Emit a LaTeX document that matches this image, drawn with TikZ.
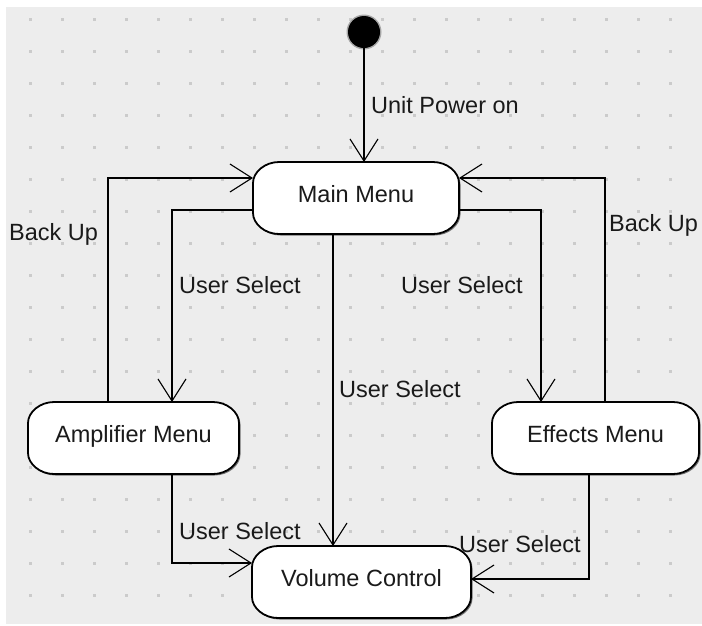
\documentclass[tikz,border=0pt]{standalone}
\usepackage{fontspec}
\setmainfont{Liberation Sans}
\usetikzlibrary{arrows.meta}
\definecolor{canvas}{HTML}{EDEDED}
\definecolor{griddot}{HTML}{CBCBCB}
\definecolor{ink}{HTML}{1A1A1A}
\pgfdeclarelayer{back}
\pgfdeclarelayer{shapes}
\pgfsetlayers{back,shapes,main}
% outline of a state: rectangle with softly curved chamfered corners
\newcommand\statepath[2]{%
  \path[#2]
    ([xshift=26pt]#1.north west) -- ([xshift=-26pt]#1.north east)
    .. controls ([xshift=-12pt]#1.north east) and ([yshift=-10pt]#1.north east)
    .. ([yshift=-21pt]#1.north east)
    -- ([yshift=21pt]#1.south east)
    .. controls ([yshift=10pt]#1.south east) and ([xshift=-12pt]#1.south east)
    .. ([xshift=-26pt]#1.south east)
    -- ([xshift=26pt]#1.south west)
    .. controls ([xshift=12pt]#1.south west) and ([yshift=10pt]#1.south west)
    .. ([yshift=21pt]#1.south west)
    -- ([yshift=-21pt]#1.north west)
    .. controls ([yshift=-10pt]#1.north west) and ([xshift=12pt]#1.north west)
    .. ([xshift=26pt]#1.north west) -- cycle;}
\newcommand\drawstate[1]{%
  \statepath{#1}{fill=black!55, transform canvas={xshift=1.5pt, yshift=-1.5pt}}%
  \statepath{#1}{fill=white, draw=black, line width=1.8pt}}
\begin{document}
\begin{tikzpicture}[x=1pt,y=-1pt,
  state/.style={inner sep=0pt, outer sep=0pt, minimum height=72pt,
    text height=17pt, text depth=9pt, text=ink,
    font=\fontsize{23.5}{28}\selectfont},
  trans/.style={line width=1.8pt, draw=black,
    -{Straight Barb[length=22pt, width=28pt, line width=1.1pt]}},
  lbl/.style={anchor=base west, inner sep=0pt, text=ink,
    font=\fontsize{23.5}{28}\selectfont},
]
\useasboundingbox (0,0) rectangle (702,625);
\begin{pgfonlayer}{back}
  \fill[white] (0,0) rectangle (702,625);
  % drawing canvas with dotted grid
  \fill[canvas] (6,7) rectangle (702,624);
  \foreach \i in {0,...,20}
    \foreach \j in {0,...,18}
      \fill[griddot] (30+32*\i-1.5, 19+32*\j-1.5) rectangle ++(3,3);
\end{pgfonlayer}

% initial pseudo-state
\fill[black!35] (364,32) circle[radius=17.5pt];
\node[circle, fill=black, minimum size=32pt, inner sep=0pt, outer sep=0pt]
  (init) at (364,32) {};

% states
\node[state, minimum width=206pt] (main) at (356,198) {Main Menu};
\node[state, minimum width=211pt] (amp) at (133.5,438) {Amplifier Menu};
\node[state, minimum width=207pt] (eff) at (595.5,438) {Effects Menu};
\node[state, minimum width=219pt] (vol) at (361.5,582) {Volume Control};
\begin{pgfonlayer}{shapes}
  \drawstate{main}
  \drawstate{amp}
  \drawstate{eff}
  \drawstate{vol}
\end{pgfonlayer}

% transitions
\draw[trans] (init.south) -- (init.south |- main.north);
\draw[trans] ([xshift=-25.5pt]amp.north) |- ([yshift=20pt]main.west);
\draw[trans] ([yshift=-12pt]main.west) -| ([xshift=38.5pt]amp.north);
\draw[trans] ([xshift=-23pt]main.south) -- ([xshift=-23pt]main.south |- vol.north);
\draw[trans] ([yshift=-12pt]main.east) -| ([xshift=-54.5pt]eff.north);
\draw[trans] ([xshift=9.5pt]eff.north) |- ([yshift=20pt]main.east);
\draw[trans] ([xshift=38.5pt]amp.south) |- ([yshift=19pt]vol.west);
\draw[trans] ([xshift=-6.5pt]eff.south) |- ([yshift=3pt]vol.east);

% transition labels
\node[lbl] (lpower) at (371,113) {Unit Power on};
\node[lbl] (lbackl) at (9,240) {Back Up};
\node[lbl] (lbackr) at (609,231) {Back Up};
\node[lbl] (lselul) at (179,293) {User Select};
\node[lbl] (lselur) at (401,293) {User Select};
\node[lbl] (lselm) at (339,397) {User Select};
\node[lbl] (lselll) at (179,539) {User Select};
\node[lbl] (lsellr) at (459,552) {User Select};
\end{tikzpicture}
\end{document}
